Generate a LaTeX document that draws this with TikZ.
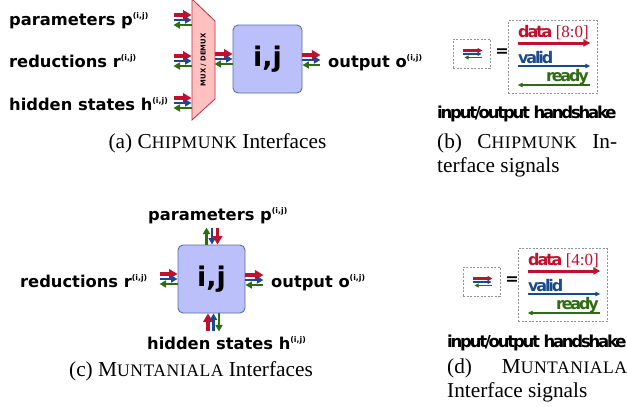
\documentclass[tikz,border=0pt]{standalone}
\usepackage{fontspec}
\setmainfont{Liberation Serif}
\newfontfamily\labfont{DejaVu Sans}
\newfontfamily\tightfont{DejaVu Sans}[LetterSpace=-13.5]
\newfontfamily\scfont{Liberation Serif}[LetterSpace=3]
\usetikzlibrary{arrows.meta,calc}
\definecolor{cred}{HTML}{C0102E}
\definecolor{cblue}{HTML}{1A4A8C}
\definecolor{cgreen}{HTML}{2E6B12}
\definecolor{boxfill}{HTML}{BCC0FA}
\definecolor{boxline}{HTML}{5470A8}
\definecolor{muxfill}{HTML}{FFC0C0}
\definecolor{muxline}{HTML}{B8303E}
\newcommand\ijsup{\raisebox{7pt}{\fontsize{7.8}{8}\selectfont(i,j)}}
\newcommand\mysc[1]{{\scfont\fontsize{17.6}{20}\selectfont #1}}
\tikzset{
  lbl/.style={font=\labfont\bfseries\fontsize{16.3}{19}\selectfont, inner sep=0pt},
  pe/.style={draw=boxline, fill=boxfill, line width=0.9pt, rounded corners=5pt,
    font=\labfont\bfseries\fontsize{27}{30}\selectfont},
  mux/.style={draw=muxline, fill=muxfill, line width=0.8pt},
  muxtext/.style={font=\labfont\bfseries\fontsize{6.8}{8}\selectfont, rotate=90, inner sep=0pt},
  captext/.style={font=\fontsize{21.3}{24}\selectfont, inner sep=0pt},
  dashbox/.style={draw=gray!85, dashed, dash pattern=on 2pt off 1.5pt, line width=0.6pt, inner sep=0pt},
  hs/.style={font=\tightfont\bfseries\fontsize{16.5}{19}\selectfont, inner sep=0pt},
  sig/.style={font=\tightfont\bfseries\fontsize{16}{18}\selectfont, inner sep=0pt},
  eqsign/.style={font=\labfont\bfseries\fontsize{16}{18}\selectfont, inner sep=0pt},
  redarr/.style={draw=cred, line width=3.4pt, -{Triangle[length=8.5pt,width=9.5pt]}},
  bluearr/.style={draw=cblue, line width=2.3pt, -{Triangle[length=6.5pt,width=7pt]}},
  greenarr/.style={draw=cgreen, line width=2.3pt, -{Triangle[length=6.5pt,width=7pt]}},
  hred/.style={draw=cred, line width=3pt, -{Triangle[length=7pt,width=7pt]}},
  hblue/.style={draw=cblue, line width=1.3pt, -{Triangle[length=5pt,width=4.5pt]}},
  hgreen/.style={draw=cgreen, line width=1.6pt, -{Triangle[length=5pt,width=4.5pt]}},
  mred/.style={draw=cred, line width=2.2pt, -{Triangle[length=5pt,width=5pt]}},
  mblue/.style={draw=cblue, line width=1.3pt, -{Triangle[length=4pt,width=4pt]}},
  mgreen/.style={draw=cgreen, line width=1.3pt, -{Triangle[length=4pt,width=4pt]}},
  hbus/.pic={
    \draw[redarr] (0,0) -- (18,0);
    \draw[bluearr] (0,5) -- (18,5);
    \draw[greenarr] (18,10) -- (0,10);
  },
  vtop/.pic={
    \draw[greenarr] (0,17) -- (0,0);
    \draw[bluearr] (5.5,0) -- (5.5,17);
    \draw[redarr] (11,0) -- (11,17);
  },
  vbot/.pic={
    \draw[redarr] (0,18) -- (0,0);
    \draw[bluearr] (5.5,18) -- (5.5,0);
    \draw[greenarr] (11,0) -- (11,18);
  }
}
\newcommand\handshake[2]{%
  \node[dashbox, minimum width=37pt, minimum height=29pt] (#1s) at (471.5,53.5) {};
  \draw[mred] ($(#1s.center)+(-9,-3)$) -- ($(#1s.center)+(11,-3)$);
  \draw[mblue] ($(#1s.center)+(-9,0.5)$) -- ($(#1s.center)+(10,0.5)$);
  \draw[mgreen] ($(#1s.center)+(10,4)$) -- ($(#1s.center)+(-7,4)$);
  \node[eqsign] (#1eq) at (502,53) {=};
  \node[dashbox, minimum width=89pt, minimum height=73pt] (#1b) at (552.5,57) {};
  \node[sig, anchor=base west, text=cred] (#1data) at (518,37) {data {\rmfamily\mdseries\fontsize{17}{18}\selectfont[#2]}};
  \draw[hred] ($(#1b.west)+(10,-14)$) -- ($(#1b.east)+(-7,-14)$);
  \node[sig, anchor=base west, text=cblue] (#1valid) at (518,63) {valid};
  \draw[hblue] ($(#1b.west)+(10,9)$) -- ($(#1b.east)+(-7,9)$);
  \node[sig, anchor=base east, text=cgreen] (#1ready) at (589,81) {ready};
  \draw[hgreen] ($(#1b.east)+(-7,28)$) -- ($(#1b.west)+(10,28)$);
}
\begin{document}
\begin{tikzpicture}[x=1pt, y=-1pt]
\useasboundingbox[fill=white] (0,0) rectangle (627,407);

% ---------- (a) Chipmunk interfaces
\path (192,-1) coordinate (mA) (215,21) coordinate (mB) (215,99) coordinate (mC) (192,120) coordinate (mD);
\draw[mux] (mA) -- (mB) -- (mC) -- (mD) -- cycle;
\node[muxtext] (muxlab) at (203.5,60) {MUX / DEMUX};
\node[pe, minimum width=69pt, minimum height=68pt] (boxa) at (267.5,59) {i,j};

\node[lbl, anchor=base west] (pa) at (9,25) {parameters p\ijsup};
\node[lbl, anchor=base west] (ra) at (9,67) {reductions r\ijsup};
\node[lbl, anchor=base west] (ha) at (9,110) {hidden states h\ijsup};
\node[lbl, anchor=base west] (oa) at (328,67) {output o\ijsup};

\pic at (173.5,15) {hbus};
\pic at (173.5,56) {hbus};
\pic at (173.5,98) {hbus};
\pic at ($(boxa.west)+(-18,-5)$) {hbus};
\pic at ($(boxa.east)+(0,-4)$) {hbus};

\node[captext, anchor=base] (capa) at (217.5,148) {(a) C\mysc{HIPMUNK} Interfaces};

% ---------- (b)
\handshake{hb}{8:0}
\node[hs, anchor=base west] (hbt) at (437,118) {input/output handshake};
\node[captext, anchor=base west] (capb1) at (437,148) {\makebox[180pt][s]{(b) C\mysc{HIPMUNK} In-}};
\node[captext, anchor=base west] (capb2) at (437,172) {terface signals};

% ---------- (c) Muntaniala interfaces
\node[pe, minimum width=67pt, minimum height=68pt] (boxc) at (211.5,279) {i,j};
\node[lbl, anchor=base west] (pc) at (148,220) {parameters p\ijsup};
\node[lbl, anchor=base west] (rc) at (20,287) {reductions r\ijsup};
\node[lbl, anchor=base west] (oc) at (271,287) {output o\ijsup};
\node[lbl, anchor=base west] (hc) at (147,349) {hidden states h\ijsup};
\pic at ($(boxc.west)+(-18,-5)$) {hbus};
\pic at ($(boxc.east)+(0,-4)$) {hbus};
\pic at ($(boxc.north)+(-5,-17)$) {vtop};
\pic at ($(boxc.south)+(-3.5,0)$) {vbot};
\node[captext, anchor=base] (capc) at (191,376) {(c) M\mysc{UNTANIALA} Interfaces};

% ---------- (d)
\begin{scope}[shift={(10,228)}]
\handshake{hd}{4:0}
\end{scope}
\node[hs, anchor=base west] (hdt) at (447,347) {input/output handshake};
\node[captext, anchor=base west] (capd1) at (447,373) {\makebox[180pt][s]{(d) M\mysc{UNTANIALA}}};
\node[captext, anchor=base west] (capd2) at (447,397) {Interface signals};
\end{tikzpicture}
\end{document}
